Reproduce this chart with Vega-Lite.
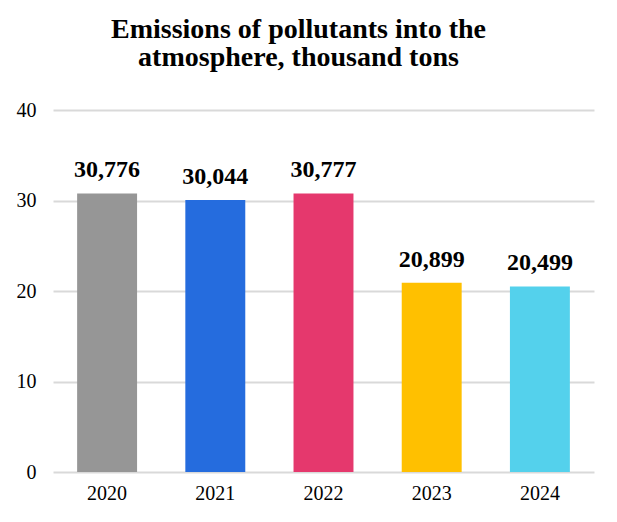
{
  "$schema": "https://vega.github.io/schema/vega-lite/v6.json",
  "autosize": {"type": "none"},
  "width": 541,
  "height": 362,
  "padding": {"left": 53, "top": 110, "right": 23, "bottom": 50},
  "background": "white",
  "config": {"view": {"stroke": null}, "font": "Liberation Serif"},
  "title": {
    "text": ["Emissions of pollutants into the", "atmosphere, thousand tons"],
    "font": "Liberation Serif",
    "fontSize": 28,
    "fontWeight": "bold",
    "color": "black",
    "anchor": "middle",
    "dx": -25,
    "offset": 28,
    "lineHeight": 28
  },
  "data": {
    "values": [
      {"year": "2020", "value": 30.776, "label": "30,776", "color": "#969696"},
      {"year": "2021", "value": 30.044, "label": "30,044", "color": "#256CDE"},
      {"year": "2022", "value": 30.777, "label": "30,777", "color": "#E5386D"},
      {"year": "2023", "value": 20.899, "label": "20,899", "color": "#FFC000"},
      {"year": "2024", "value": 20.499, "label": "20,499", "color": "#54D1EC"}
    ]
  },
  "encoding": {
    "x": {
      "field": "year", "type": "nominal",
      "scale": {"paddingInner": 0.446, "paddingOuter": 0.223},
      "axis": {"title": null, "labelAngle": 0, "labelFont": "Liberation Serif", "labelFontSize": 20, "labelColor": "black", "ticks": false, "domain": false, "labelPadding": 11}
    },
    "y": {
      "field": "value", "type": "quantitative",
      "scale": {"domain": [0, 40]},
      "axis": {"title": null, "values": [0, 10, 20, 30, 40], "labelFont": "Liberation Serif", "labelFontSize": 20, "labelColor": "black", "ticks": false, "domain": false, "labelPadding": 17, "gridColor": "#d9d9d9", "gridWidth": 2}
    }
  },
  "layer": [
    {"mark": {"type": "bar"}, "encoding": {"color": {"field": "color", "type": "nominal", "scale": null}}},
    {"mark": {"type": "text", "baseline": "alphabetic", "dy": -16, "fontSize": 24, "fontWeight": "bold", "font": "Liberation Serif", "color": "black"}, "encoding": {"text": {"field": "label"}}}
  ]
}
